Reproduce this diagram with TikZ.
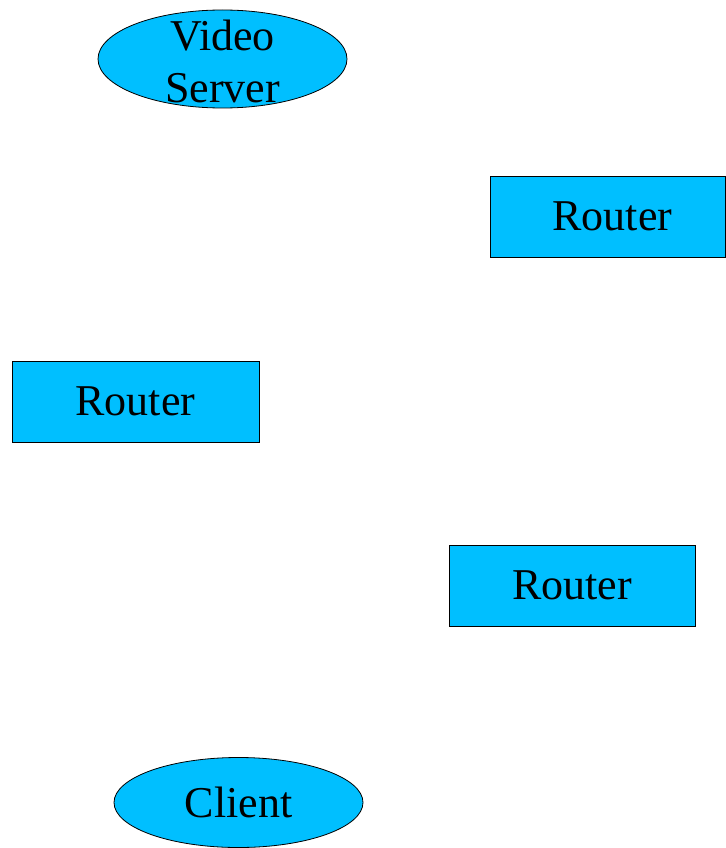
\documentclass[tikz,border=0pt]{standalone}
\usepackage{fontspec}
\setmainfont{Liberation Serif}
\usetikzlibrary{shapes.geometric}
\definecolor{nodeblue}{HTML}{00BFFF}
\begin{document}
\begin{tikzpicture}[x=1pt,y=-1pt,
  every node/.style={font=\fontsize{44}{52}\selectfont, text=black, inner sep=0pt, outer sep=0pt},
  oval/.style={ellipse, draw=black, fill=nodeblue, line width=0.8pt},
  routerbox/.style={rectangle, draw=black, fill=nodeblue, line width=0.8pt, minimum width=246pt, minimum height=81pt}]
\useasboundingbox (0,0) rectangle (725,848);
\node[oval, minimum width=249pt, minimum height=98pt] (vs) at (222.5,59) {};
\node[align=center] (vstext) at (222.5,61) {Video\\Server};
\node[routerbox, minimum width=235pt, text width=235pt, align=center] (r1) at (607.5,216.5) {\hspace*{10pt}Router};
\node[routerbox, minimum width=247pt] (r2) at (135.5,401.5) {Router};
\node[routerbox] (r3) at (572,585.5) {Router};
\node[oval, minimum width=249pt, minimum height=90pt] (cl) at (238.5,802.5) {};
\node (cltext) at (238.5,802.5) {Client};
\end{tikzpicture}
\end{document}
